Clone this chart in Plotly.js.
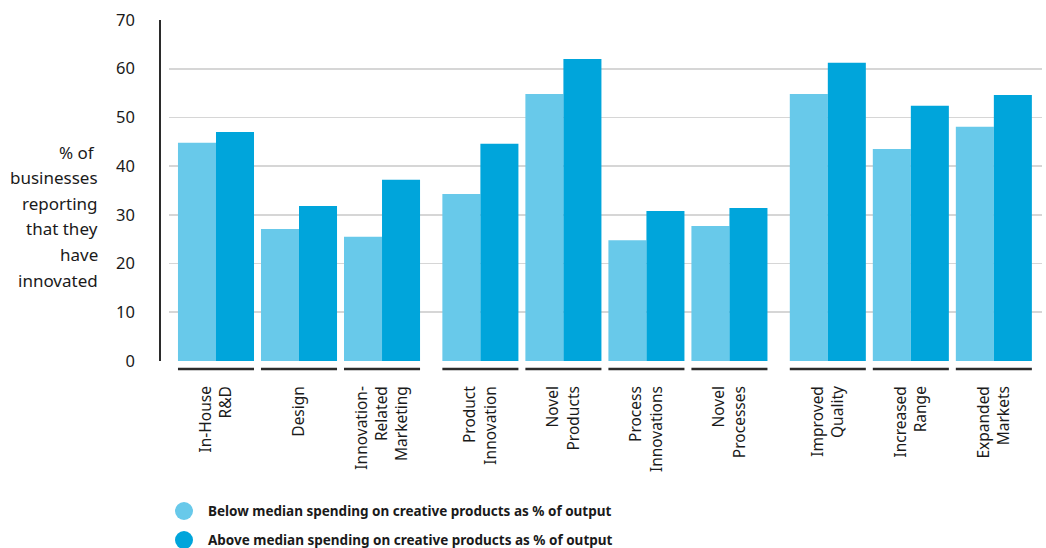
<!DOCTYPE html>
<html>
<head>
<meta charset="utf-8">
<script src="https://cdn.plot.ly/plotly-3.0.1.min.js"></script>
<style>
  html, body { margin: 0; padding: 0; background: #fff; }
  #chart { width: 1046px; height: 548px; }
</style>
</head>
<body>
<div id="chart"></div>
<script>
// ---- data ----
const categories = [
  "In-House<br>R&D", "Design", "Innovation-<br>Related<br>Marketing",
  "Product<br>Innovation", "Novel<br>Products", "Process<br>Innovations", "Novel<br>Processes",
  "Improved<br>Quality", "Increased<br>Range", "Expanded<br>Markets"
];
const groupSizes = [3, 4, 3];
const belowMedian = [44.8, 27.1, 25.5, 34.3, 54.8, 24.8, 27.7, 54.8, 43.5, 48.1];
const aboveMedian = [47.0, 31.8, 37.2, 44.6, 62.0, 30.8, 31.4, 61.2, 52.4, 54.6];
const seriesNames = [
  "Below median spending on creative products as % of output",
  "Above median spending on creative products as % of output"
];
const yTitleLines = ["% of\u00a0", "businesses", "reporting", "that they", "have", "innovated"];
const yTicks = [0, 10, 20, 30, 40, 50, 60, 70];

// ---- layout helpers ----
const colors = ["#68c9ea", "#00a5db"];
const groupGap = 0.185;
const positions = [];
groupSizes.forEach((n, g) => {
  for (let k = 0; k < n; k++) positions.push(positions.length + g * groupGap);
});
const bargap = 0.084;

const W = 1046, H = 548;
const M = { l: 169, r: 4, t: 20, b: 187 };
const PW = W - M.l - M.r, PH = H - M.t - M.b;
const px = x => (x - M.l) / PW;
const py = y => (H - M.b - y) / PH;

const font = "Noto Sans, Open Sans, sans-serif";
const textColor = "#1a1a1a";

const traces = [belowMedian, aboveMedian].map((vals, i) => ({
  type: "bar",
  x: positions,
  y: vals,
  name: seriesNames[i],
  marker: { color: colors[i], line: { width: 0 } },
  showlegend: false,
  hoverinfo: "x+y"
}));

const shapes = [];
// y axis line
shapes.push({
  type: "line", xref: "paper", yref: "y",
  x0: px(160), x1: px(160), y0: 0, y1: 70,
  line: { color: "#2b2b2b", width: 2 }
});
// underline per category
const half = (1 - bargap) / 2;
positions.forEach(p => {
  shapes.push({
    type: "line", xref: "x", yref: "paper",
    x0: p - half, x1: p + half, y0: py(369), y1: py(369),
    line: { color: "#2b2b2b", width: 2.5 }
  });
});
// legend circles
const annotations = [];
seriesNames.forEach((name, i) => {
  const cy = 511 + i * 29;
  shapes.push({
    type: "circle", xref: "paper", yref: "paper",
    x0: px(175), x1: px(193), y0: py(cy - 9), y1: py(cy + 9),
    fillcolor: colors[i], line: { width: 0 }
  });
  annotations.push({
    xref: "paper", yref: "paper", x: px(206), y: py(cy),
    xanchor: "left", yanchor: "middle", showarrow: false,
    text: "<b>" + name + "</b>",
    font: { family: font, size: 13.5, color: textColor }
  });
});
// y title lines
yTitleLines.forEach((t, i) => {
  annotations.push({
    xref: "paper", yref: "paper", x: px(100), y: py(152 + i * 25.6),
    xanchor: "right", yanchor: "middle", showarrow: false,
    text: t, align: "right",
    font: { family: font, size: 17, color: textColor }
  });
});

const layout = {
  width: W, height: H,
  margin: M,
  paper_bgcolor: "#fff", plot_bgcolor: "#fff",
  barmode: "group",
  bargap: bargap,
  bargroupgap: 0,
  font: { family: font, color: textColor },
  xaxis: {
    range: [-0.566, 9.95],
    tickvals: positions,
    ticktext: categories,
    tickangle: -90,
    ticks: "",
    ticklabelstandoff: 21,
    showgrid: false, zeroline: false, showline: false,
    tickfont: { family: font, size: 15.5, color: textColor },
    fixedrange: true
  },
  yaxis: {
    range: [0, 70],
    tickvals: yTicks,
    ticks: "",
    ticklabelstandoff: 33,
    showgrid: true, gridcolor: "#d6d6d6", gridwidth: 1.6,
    zeroline: false, showline: false,
    tickfont: { family: font, size: 16.5, color: textColor },
    fixedrange: true
  },
  shapes: shapes,
  annotations: annotations
};

Plotly.newPlot("chart", traces, layout, { displayModeBar: false, staticPlot: true });
</script>
</body>
</html>
